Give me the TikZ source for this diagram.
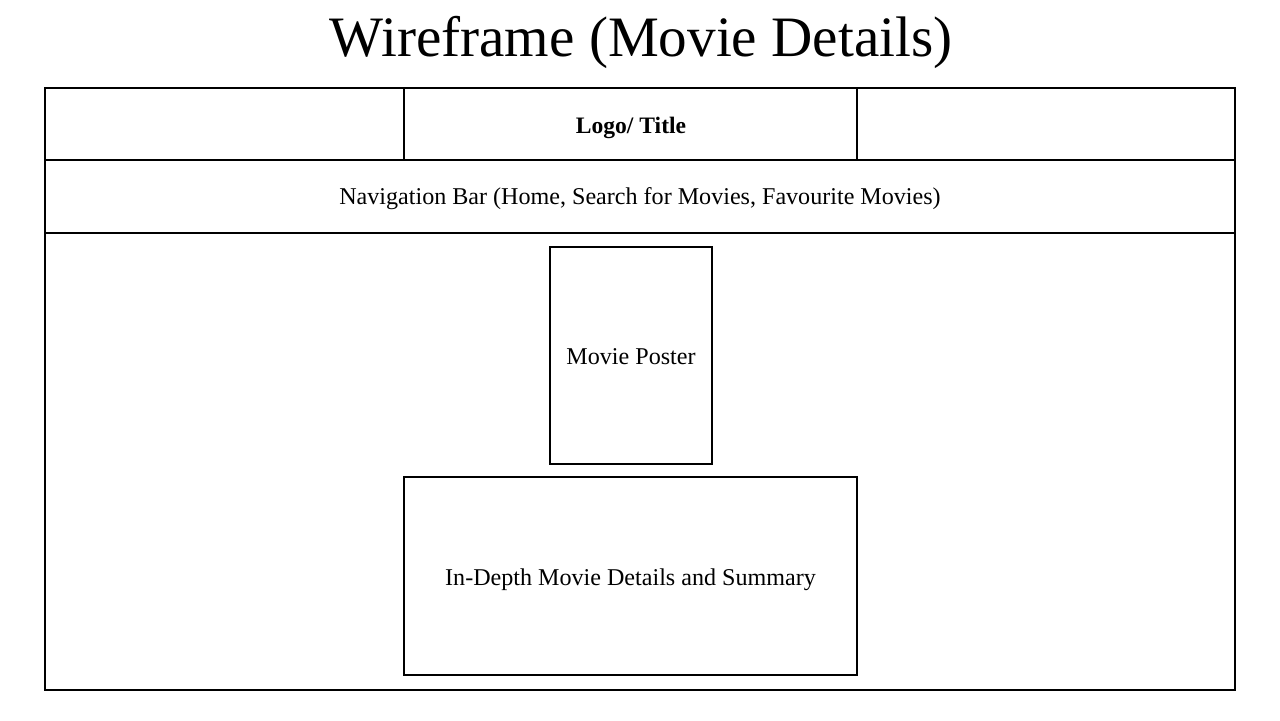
\documentclass[tikz,border=0pt]{standalone}
\usepackage{fontspec}
\setmainfont{Liberation Serif}
\usetikzlibrary{positioning}

\tikzset{
  frame/.style={draw=black, line width=0.6pt},
  label/.style={font=\fontsize{6.85}{8}\selectfont, inner sep=0pt},
  panel/.style={frame, rectangle, inner sep=0pt}
}

\begin{document}
\begin{tikzpicture}[x=0.01cm, y=-0.01cm]
\useasboundingbox (0,0) rectangle (1280,720);

% heading
\node[inner sep=0pt, font=\fontsize{16.25}{19}\selectfont] (heading) at (641,42) {Wireframe (Movie Details)};

% page frame and header rows
\draw[frame] (45,88) rectangle (1235,690);
\draw[frame] (45,160) -- (1235,160);
\draw[frame] (45,233) -- (1235,233);
\draw[frame] (404,88) -- (404,160);
\draw[frame] (857,88) -- (857,160);

\node[label, font=\fontsize{6.7}{8}\selectfont\bfseries] (logo) at (631,128) {Logo/ Title};
\node[label] (navbar) at (640,199) {Navigation Bar (Home, Search for Movies, Favourite Movies)};

% content
\node[panel, minimum width=1.62cm, minimum height=2.17cm] (poster) at (631,355.5) {};
\node[panel, minimum width=4.53cm, minimum height=1.98cm] (details) at (630.5,576) {};
\node[label, yshift=-0.3pt] (postertext) at (poster.center) {Movie Poster};
\node[label, yshift=-1.1pt] (detailstext) at (details.center) {In-Depth Movie Details and Summary};

\end{tikzpicture}
\end{document}
